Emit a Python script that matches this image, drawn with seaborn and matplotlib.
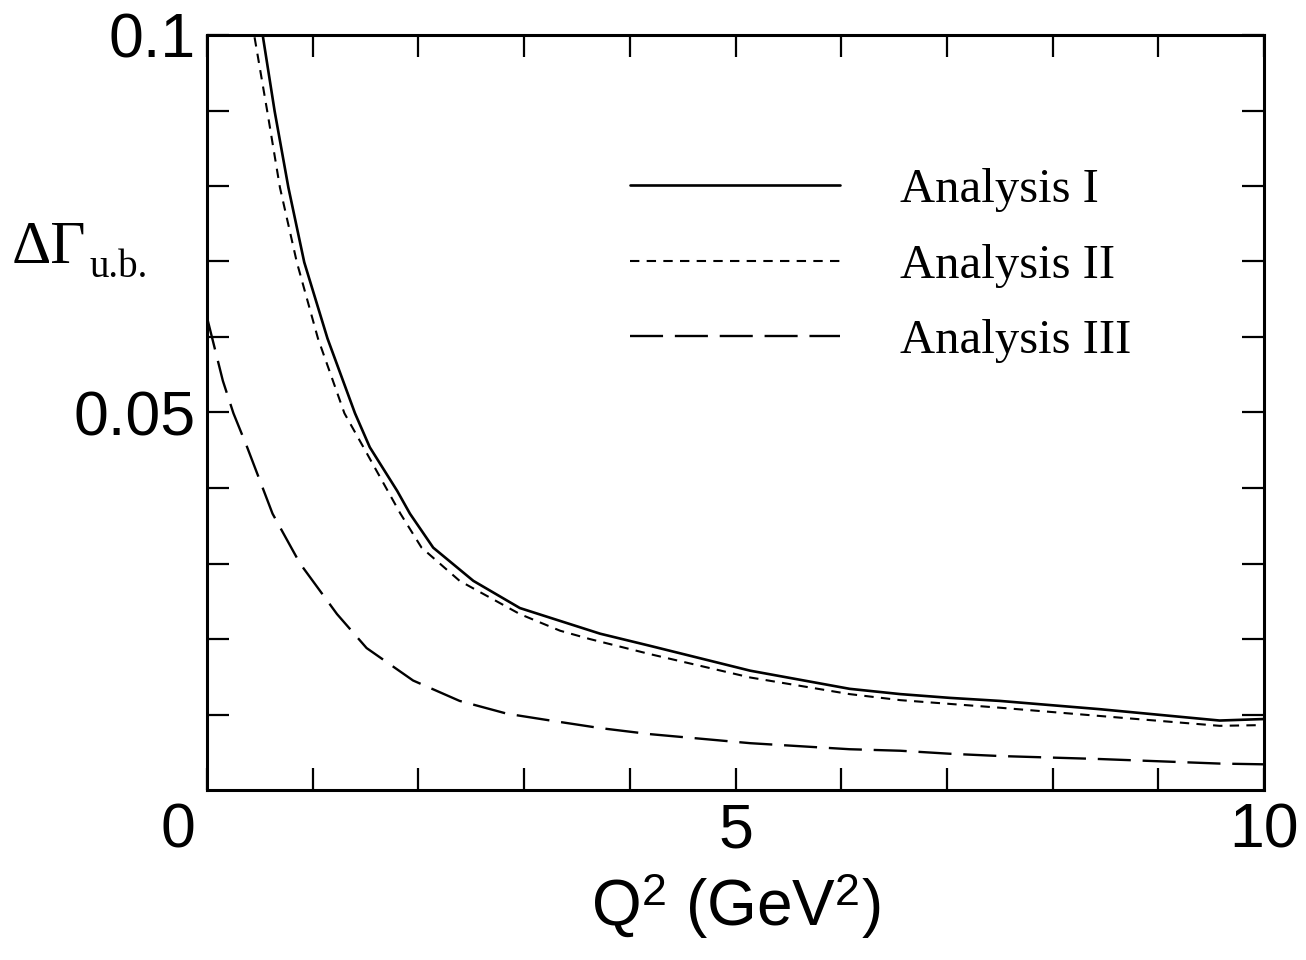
import matplotlib
matplotlib.use('Agg')

import pandas as pd
import matplotlib.pyplot as plt
from matplotlib.ticker import FixedLocator, FixedFormatter
from matplotlib.transforms import ScaledTranslation
import seaborn as sns

# Valores
q2_i = [0.53, 0.64, 0.77, 0.92, 1.14, 1.40, 1.54, 1.80, 1.92, 2.14, 2.52, 2.96,
        3.25, 3.72, 4.19, 5.14, 6.08, 6.56, 7.03, 7.50, 8.45, 9.58, 10.0]
gam_i = [0.0997, 0.0899, 0.0798, 0.0699, 0.0598, 0.0499, 0.0454, 0.0396, 0.0366,
         0.0321, 0.0277, 0.0241, 0.0228, 0.0207, 0.0191, 0.0158, 0.0134, 0.0127,
         0.0122, 0.0118, 0.0107, 0.0092, 0.0094]

q2_ii = [0.45, 0.57, 0.69, 0.85, 1.05, 1.30, 1.48, 1.83, 2.03, 2.39, 2.96, 3.34,
         3.62, 4.19, 5.14, 6.08, 6.56, 7.03, 7.50, 8.45, 9.58, 10.0]
gam_ii = [0.0997, 0.0899, 0.0798, 0.0699, 0.0598, 0.0499, 0.0454, 0.0366, 0.0321,
          0.0277, 0.0233, 0.0211, 0.0200, 0.0180, 0.0149, 0.0127, 0.0119, 0.0114,
          0.0109, 0.0098, 0.0085, 0.0086]

q2_iii = [0.0, 0.05, 0.15, 0.25, 0.38, 0.62, 0.88, 1.23, 1.51, 1.95, 2.39, 2.84,
          3.25, 3.72, 4.19, 5.14, 6.08, 6.56, 7.03, 7.50, 8.45, 9.58, 10.0]
gam_iii = [0.0626, 0.0598, 0.0542, 0.0499, 0.0454, 0.0366, 0.0300, 0.0233, 0.0188,
           0.0145, 0.0118, 0.0101, 0.0092, 0.0082, 0.0074, 0.0062, 0.0054, 0.0052,
           0.0048, 0.0045, 0.0041, 0.0035, 0.0034]

etiquetas = ["Analysis I", "Analysis II", "Analysis III"]
x_mayores = [0, 5, 10]
x_menores = [1, 2, 3, 4, 6, 7, 8, 9]
y_mayores = [0.05, 0.1]
y_menores = [0.01, 0.02, 0.03, 0.04, 0.06, 0.07, 0.08, 0.09]

sns.set_style("ticks")
plt.rcParams['font.family'] = ['Liberation Sans', 'DejaVu Sans']
plt.rcParams['mathtext.fontset'] = 'custom'
plt.rcParams['mathtext.rm'] = 'Liberation Serif'
plt.rcParams['mathtext.it'] = 'Liberation Serif:italic'
plt.rcParams['mathtext.sf'] = 'Liberation Sans'
for clave in ['text.color', 'axes.labelcolor', 'xtick.color', 'ytick.color',
              'axes.edgecolor']:
    plt.rcParams[clave] = 'black'

fig = plt.figure(figsize=(13.06, 9.6), dpi=100)
ax = fig.add_axes([207 / 1306, 1 - 790 / 960, 1057 / 1306, 755 / 960])

df_i = pd.DataFrame({"q2": q2_i, "g": gam_i})
df_ii = pd.DataFrame({"q2": q2_ii, "g": gam_ii})
df_iii = pd.DataFrame({"q2": q2_iii, "g": gam_iii})

sns.lineplot(data=df_i, x="q2", y="g", color="black", linewidth=1.9,
             label=etiquetas[0], ax=ax, sort=False)
sns.lineplot(data=df_ii, x="q2", y="g", color="black", linewidth=1.5,
             linestyle=(0, (4.5, 3.5)), label=etiquetas[1], ax=ax, sort=False)
sns.lineplot(data=df_iii, x="q2", y="g", color="black", linewidth=1.7,
             linestyle=(0, (14, 5)), label=etiquetas[2], ax=ax, sort=False)

ax.set_xlim(0, 10)
ax.set_ylim(0, 0.1)

ax.xaxis.set_major_locator(FixedLocator(x_mayores))
ax.xaxis.set_major_formatter(FixedFormatter(["0", "5", "10"]))
ax.xaxis.set_minor_locator(FixedLocator(x_menores))
ax.yaxis.set_major_locator(FixedLocator(y_mayores))
ax.yaxis.set_major_formatter(FixedFormatter(["0.05", "0.1"]))
ax.yaxis.set_minor_locator(FixedLocator(y_menores))

for lado in ["top", "right", "bottom", "left"]:
    ax.spines[lado].set_visible(True)
    ax.spines[lado].set_linewidth(2.2)
    ax.spines[lado].set_color("black")

ax.tick_params(which="both", direction="in", top=True, right=True,
               length=16, width=1.6, color="black")
ax.tick_params(axis="both", which="major", labelsize=45, pad=8)

# el "0" del eje x aparece desplazado a la izquierda en el original
tick_cero = ax.xaxis.get_major_ticks()[0]
tick_cero.label1.set_transform(tick_cero.label1.get_transform() +
                               ScaledTranslation(-0.29, 0, fig.dpi_scale_trans))

ax.set_xlabel(r"Q$^{\mathsf{2}}$ (GeV$^{\mathsf{2}}$)", fontsize=46, labelpad=8)
ax.set_ylabel("")
fig.text(12 / 1306, 1 - 263 / 960, "ΔΓ", fontsize=44,
         family="Liberation Serif", ha="left", va="baseline")
fig.text(90 / 1306, 1 - 277 / 960, "u.b.", fontsize=28,
         family="Liberation Serif", ha="left", va="baseline")

ax.legend(loc="upper left", bbox_to_anchor=(0.400, 0.824), frameon=False,
          prop={"family": "Liberation Serif", "size": 35},
          handlelength=4.32, handletextpad=1.23, labelspacing=0.65,
          borderpad=0, borderaxespad=0)

plt.savefig("out.png", dpi=100)
plt.close()
